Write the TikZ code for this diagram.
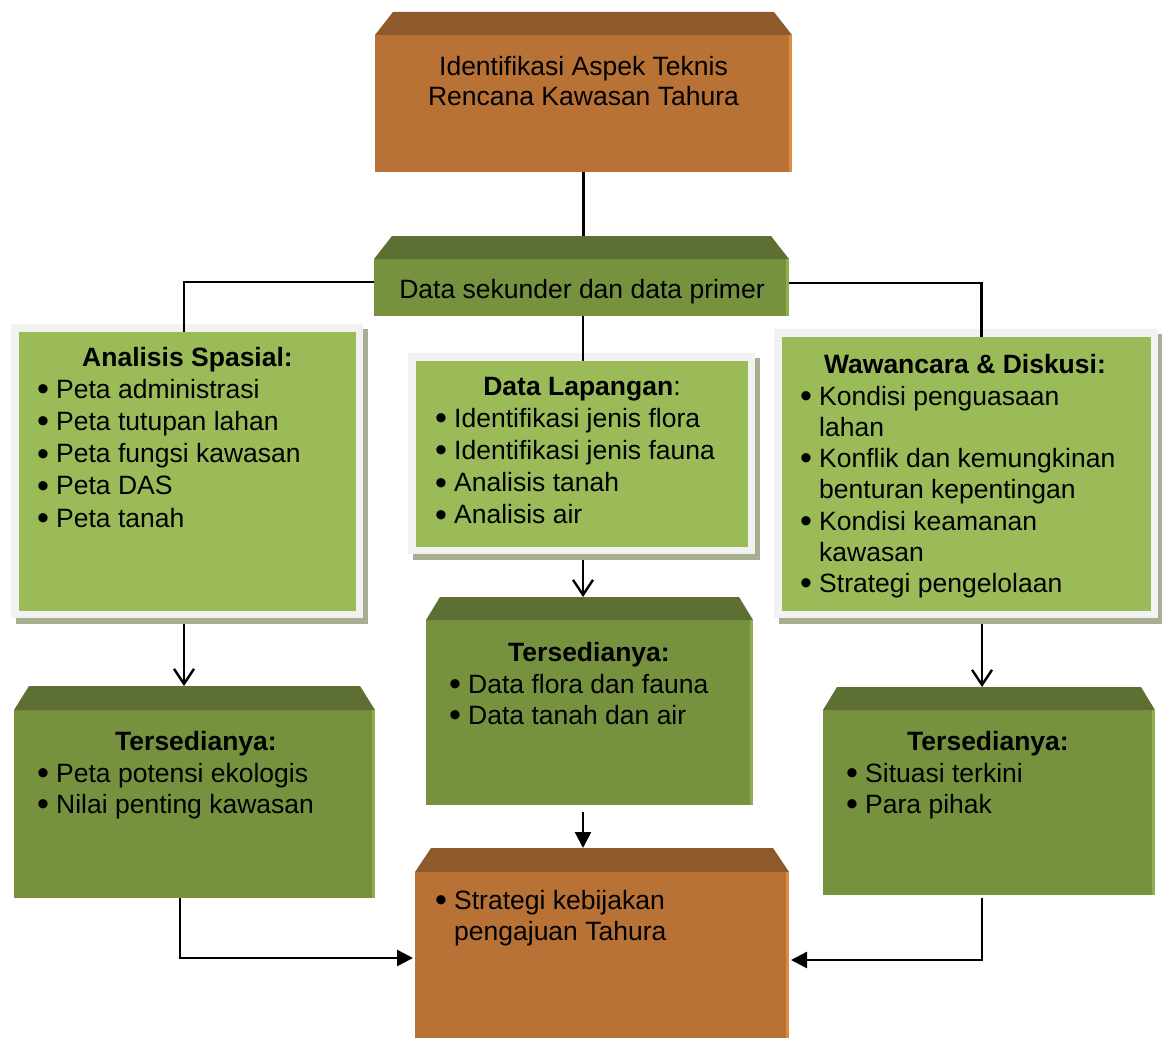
\documentclass[tikz,border=0pt]{standalone}
\usepackage{fontspec}
\setmainfont{Liberation Sans}
\usetikzlibrary{arrows.meta,calc,backgrounds}
\definecolor{orbody}{HTML}{B97236}
\definecolor{orbevel}{HTML}{8F5A2B}
\definecolor{oredge}{HTML}{E08A40}
\definecolor{olbody}{HTML}{77923E}
\definecolor{olbevel}{HTML}{5E6F34}
\definecolor{oledge}{HTML}{8FAF4C}
\definecolor{lgreen}{HTML}{9BBB59}
\definecolor{framecol}{HTML}{F2F2F2}
\definecolor{shadecol}{HTML}{A7AE92}
\newcommand\itm{\makebox[18pt][l]{\hspace*{-1pt}\raisebox{-2.6pt}{\fontsize{34}{34}\selectfont\textbullet}}}
\newcommand\bevelbox[4]{%
  \fill[#4] (#1.north west) -- ++(#2,-#3) -- ($(#1.north east)+(-#2,-#3)$) -- (#1.north east) -- cycle;
  \coordinate (#1-t) at ($(#1.north)+(0,-#3)$);}
\newcommand\lightframe[1]{%
  \begin{scope}[on background layer]
    \fill[shadecol] ($(#1.north west)+(-3,-3)$) rectangle ($(#1.south east)+(12,13)$);
    \fill[framecol] ($(#1.north west)+(-8,-8)$) rectangle ($(#1.south east)+(7,7)$);
  \end{scope}}
\begin{document}
\begin{tikzpicture}[x=1pt,y=-1pt,
  txt/.style={inner sep=0pt,font=\fontsize{26.5}{32}\selectfont},
  itemline/.style={txt,anchor=base west},
  ctr/.style={txt,anchor=base},
  head/.style={txt,anchor=base,font=\fontsize{26.5}{32}\selectfont\bfseries},
  obox/.style={fill=orbody,inner sep=0pt,outer sep=0pt},
  gbox/.style={fill=olbody,inner sep=0pt,outer sep=0pt},
  lbox/.style={fill=lgreen,inner sep=0pt,outer sep=0pt},
  conn/.style={line width=2.4pt},
  openarr/.style={conn,-{Straight Barb[length=15pt,width=20pt]}},
  filarr/.style={conn,-{Triangle[length=16pt,width=16pt]}}]
\useasboundingbox (0,0) rectangle (1162,1038);

% ---- boxes ----
\node[obox,minimum width=417pt,minimum height=137pt] (top) at (583.5,103.5) {};
\bevelbox{top}{18}{23}{orbevel}
\fill[oredge] ($(top.north east)+(-3,0)$) rectangle (top.south east);

\node[gbox,minimum width=415pt,minimum height=57pt] (dsk) at (581.5,287.5) {};
\bevelbox{dsk}{18}{23}{olbevel}
\fill[oledge] ($(dsk.north east)+(-3,0)$) rectangle (dsk.south east);

\node[lbox,minimum width=337pt,minimum height=279pt] (as) at (187.5,471.5) {};
\lightframe{as}
\node[lbox,minimum width=332pt,minimum height=186pt] (dl) at (582,454) {};
\lightframe{dl}
\node[lbox,minimum width=369pt,minimum height=274pt] (wd) at (966.5,474) {};
\lightframe{wd}

\node[gbox,minimum width=361pt,minimum height=188pt] (lt) at (194.5,804) {};
\bevelbox{lt}{15}{24}{olbevel}
\fill[oledge] ($(lt.north east)+(-3,0)$) rectangle (lt.south east);
\node[gbox,minimum width=327pt,minimum height=185pt] (mt) at (589.5,712.5) {};
\bevelbox{mt}{14}{23}{olbevel}
\fill[oledge] ($(mt.north east)+(-3,0)$) rectangle (mt.south east);
\node[gbox,minimum width=332pt,minimum height=185pt] (rt) at (989,802.5) {};
\bevelbox{rt}{14}{23}{olbevel}
\fill[oledge] ($(rt.north east)+(-3,0)$) rectangle (rt.south east);

\node[obox,minimum width=374pt,minimum height=166pt] (bot) at (602,955) {};
\bevelbox{bot}{16}{24}{orbevel}
\fill[oredge] ($(bot.north east)+(-3,0)$) rectangle (bot.south east);

% ---- texts ----
\node[ctr] (top1) at (583.5,76) {Identifikasi Aspek Teknis};
\node[ctr] (top2) at (583.5,106) {Rencana Kawasan Tahura};
\node[ctr] (dsk1) at (582,298) {Data sekunder dan data primer};

\node[head] (ash) at (187.5,366) {Analisis Spasial:};
\foreach \s [count=\i] in {Peta administrasi,Peta tutupan lahan,Peta fungsi kawasan,Peta DAS,Peta tanah}
  \node[itemline] (as\i) at (38,{398+32.25*(\i-1)}) {\itm\s};

\node[ctr] (dlh) at (582,395) {\textbf{Data Lapangan}:};
\foreach \s [count=\i] in {Identifikasi jenis flora,Identifikasi jenis fauna,Analisis tanah,Analisis air}
  \node[itemline] (dl\i) at (436,{427+32.3*(\i-1)}) {\itm\s};

\node[head] (wdh) at (965,373) {Wawancara \& Diskusi:};
\node[itemline] (wd1) at (801,405) {\itm Kondisi penguasaan};
\node[itemline] (wd2) at (819,436) {lahan};
\node[itemline] (wd3) at (801,467) {\itm Konflik dan kemungkinan};
\node[itemline] (wd4) at (819,498) {benturan kepentingan};
\node[itemline] (wd5) at (801,530) {\itm Kondisi keamanan};
\node[itemline] (wd6) at (819,561) {kawasan};
\node[itemline] (wd7) at (801,592) {\itm Strategi pengelolaan};

\node[head] (lth) at (196,750) {Tersedianya:};
\node[itemline] (lt1) at (38,782) {\itm Peta potensi ekologis};
\node[itemline] (lt2) at (38,813) {\itm Nilai penting kawasan};

\node[head] (mth) at (589,661) {Tersedianya:};
\node[itemline] (mt1) at (450,693) {\itm Data flora dan fauna};
\node[itemline] (mt2) at (450,724) {\itm Data tanah dan air};

\node[head] (rth) at (988,750) {Tersedianya:};
\node[itemline] (rt1) at (847,782) {\itm Situasi terkini};
\node[itemline] (rt2) at (847,813) {\itm Para pihak};

\node[itemline] (bot1) at (436,909) {\itm Strategi kebijakan};
\node[itemline] (bot2) at (454,940) {pengajuan Tahura};

% ---- connectors ----
\draw[conn] (top.south) -- (dsk-t -| top.south);
\draw[conn] ($(dsk.west)+(0,-5.5)$) -| ($(as.north)+(-3.5,0)$);
\draw[conn] ($(dsk.east)+(0,-4.5)$) -| ($(wd.north)+(15,0)$);
\draw[conn] ($(dsk.south)+(1.5,0)$) -- ($(dl.north)+(1,0)$);
\draw[openarr] ($(as.south)+(-3.5,13)$) -- ($(lt-t)+(-10.5,0)$);
\draw[openarr] ($(dl.south)+(1,13)$) -- ($(mt-t)+(-6.5,0)$);
\draw[openarr] ($(wd.south)+(15.5,13)$) -- ($(rt-t)+(-7,0)$);
\draw[filarr] ($(mt.south)+(-6.5,7)$) -- ($(bot-t)+(-19,0)$);
\draw[filarr] ($(lt.south)+(-14.5,0)$) |- ($(bot.west)+(-2,3)$);
\draw[filarr] ($(rt.south)+(-7,3)$) |- ($(bot.east)+(2,5)$);
\end{tikzpicture}
\end{document}
